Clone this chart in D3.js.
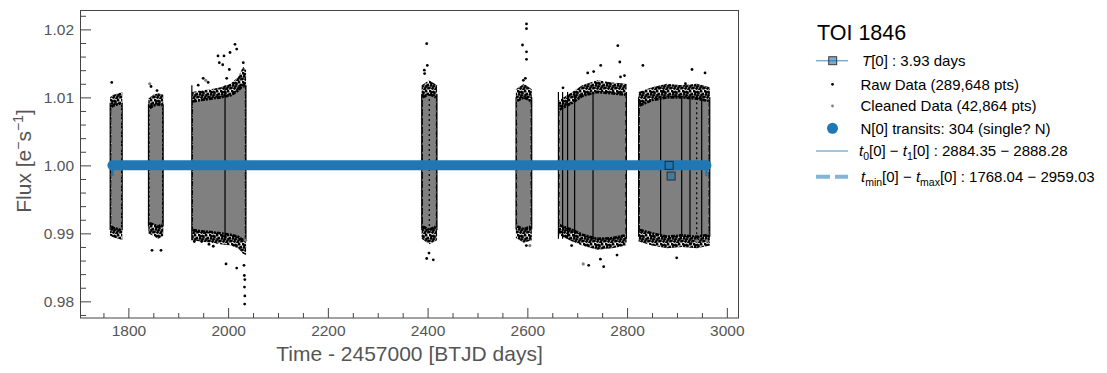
<!DOCTYPE html>
<html><head><meta charset="utf-8">
<script src="https://cdn.jsdelivr.net/npm/d3@7"></script>
<style>
body{margin:0;background:#fff}
svg{display:block;font-family:"Liberation Sans",Arial,sans-serif}
</style>
</head><body>
<svg id="c" width="1107" height="373"></svg>
<script>
// ---------------- data ----------------
// envelope knots of each observed segment (read from picture)
const knotSeg    = [0,0,0,0, 1,1,1,1, 2,2,2,2,2,2,2,2, 3,3,3, 4,4,4, 5,5,5,5,5,5, 6,6,6,6,6,6];
const knotT      = [1763.2,1770,1780,1787.8, 1840,1850,1860,1870,
                    1927,1945,1965,1985,2005,2020,2030,2036,
                    2388,2403,2419, 2577,2593,2609,
                    2662,2690,2710,2740,2770,2799,
                    2823,2850,2880,2910,2940,2966];
const knotRawHi  = [1.0100,1.0104,1.0106,1.0108, 1.0098,1.0104,1.0106,1.0104,
                    1.0108,1.0110,1.0112,1.0115,1.0120,1.0130,1.0145,1.0140,
                    1.0118,1.0125,1.0118, 1.0112,1.0120,1.0112,
                    1.0095,1.0108,1.0118,1.0125,1.0122,1.0120,
                    1.0108,1.0115,1.0120,1.0118,1.0120,1.0115];
const knotCleanHi= [1.0086,1.0088,1.0090,1.0092, 1.0084,1.0088,1.0090,1.0088,
                    1.0094,1.0096,1.0098,1.0100,1.0103,1.0110,1.0118,1.0115,
                    1.0100,1.0105,1.0100, 1.0095,1.0100,1.0095,
                    1.0082,1.0092,1.0102,1.0108,1.0106,1.0104,
                    1.0088,1.0096,1.0100,1.0100,1.0098,1.0095];
const knotCleanLo= [0.9910,0.9908,0.9906,0.9905, 0.9915,0.9913,0.9910,0.9913,
                    0.9905,0.9903,0.9902,0.9900,0.9898,0.9895,0.9890,0.9890,
                    0.9910,0.9905,0.9910, 0.9910,0.9906,0.9910,
                    0.9912,0.9905,0.9898,0.9892,0.9893,0.9897,
                    0.9905,0.9900,0.9895,0.9897,0.9895,0.9898];
const knotRawLo  = [0.9897,0.9894,0.9892,0.9890, 0.9900,0.9896,0.9892,0.9896,
                    0.9890,0.9888,0.9886,0.9884,0.9882,0.9878,0.9870,0.9868,
                    0.9892,0.9884,0.9890, 0.9893,0.9886,0.9890,
                    0.9898,0.9888,0.9882,0.9876,0.9878,0.9882,
                    0.9888,0.9882,0.9878,0.9880,0.9878,0.9882];

// isolated raw-data points
const rawOutT = [1766.6, 1845.4,1857.4,1847.4,1865.4,
  1979.7,1991.7,2003.8,2013.8,2017.2,2030.4,1982.3,1989.1,1997.2,2002.4,1950,1960,1940,
  1932.2,1947,1961.7,1970.3,1995.8,2017.2,2031.8,2032.5,2033.5,2032.8,2033.5,2033.2,
  2398.2,2399.4,2393.4,2394,2398.2,2411.4,2402.8,
  2598.3,2598.3,2590.3,2598.3,2598.3,2596,2592,2598,
  2747.1,2781.4,2785.4,2721,2733,2671.5,2794.8,2786.8,
  2723,2753.1,2746.5,2688.8,2779.8,2664.7,
  2831.7,2930.2,2956.3,2917,2872.6,2864,
  2899.5,2928];
const rawOutF = [1.0122, 1.0116,1.0110,0.9875,0.9875,
  1.0161,1.0161,1.0166,1.0178,1.0171,1.0151,1.0151,1.0148,1.0128,1.0141,1.0128,1.0122,1.0118,
  0.9888,0.9888,0.9884,0.9881,0.9855,0.9849,0.9853,0.9838,0.9832,0.9821,0.9808,0.9796,
  1.0179,1.0147,1.0140,1.0135,0.9863,0.9861,0.9871,
  1.0208,1.0201,1.0177,1.0167,1.0156,1.0128,1.0125,0.9882,
  1.0147,1.0176,1.0152,1.0136,1.0138,1.0114,1.0132,1.0130,
  0.9853,0.9851,0.9862,0.9882,0.9868,0.9902,
  1.0147,1.0141,1.0136,1.0120,1.0109,1.0114,
  0.9864,0.9885];
// isolated cleaned-data points
const cleanOutT = [1842.8, 1955, 2035, 2605, 2960, 2940, 2712];
const cleanOutF = [1.0120, 1.0125, 0.9890, 0.9882, 0.9889, 0.9889, 0.9855];
// dark vertical stripes at data-gap edges
const edgeT = [1763.5,1787.5,1840.3,1869.7,1927.3,1993.8,2035.7,2388.3,2403.4,2418.7,2577.4,2608.8,
  2662.3,2670.7,2680.7,2694.8,2731.7,2798.6,2823.1,2867.2,2909.5,2926.1,2939.6,2949.6,2965.8];

// transits
const tMin = 1768.04, tMax = 2959.03;
const squareT = [2884.35, 2888.28];
const squareF = [1.0000, 0.99843];

// axes ticks
const xMajor = [1800,2000,2200,2400,2600,2800,3000];
const yMajor = [0.98,0.99,1.00,1.01,1.02];

// legend
const legendTitle = "TOI 1846";
const rawLabel = "Raw Data (289,648 pts)";
const cleanLabel = "Cleaned Data (42,864 pts)";
const transitLabel = "N[0] transits: 304 (single? N)";

// ---------------- drawing ----------------
const blue = "#1f77b4";
const svg = d3.select("#c");
const defs = svg.append("defs");
// irregular stipple texture for the dense raw-data fringe
const pat = defs.append("pattern").attr("id","speck").attr("width",11).attr("height",9)
  .attr("patternUnits","userSpaceOnUse");
[[1,1,"#000"],[4.5,2,"#000"],[8,1.2,"#000"],[10,4,"#000"],[2,4.5,"#000"],[6,5,"#808080"],
 [3.5,7.5,"#000"],[7.5,7,"#000"],[0.5,7,"#000"],[5.5,3,"#000"],[9,8.5,"#808080"],[6.5,8.5,"#000"],
 [8.5,5,"#000"],[2.5,2.5,"#000"],[4.5,5.5,"#000"],[10.5,7,"#000"]]
  .forEach(([cx,cy,c])=> pat.append("circle").attr("cx",cx).attr("cy",cy).attr("r",1.45).attr("fill",c));

const x = d3.scaleLinear().domain([1705, 3023]).range([81, 738.3]);
const y = d3.scaleLinear().domain([0.97755, 1.02285]).range([318, 10]);

const knots = knotT.map((t,i)=>({seg:knotSeg[i], t, rh:knotRawHi[i], ch:knotCleanHi[i], cl:knotCleanLo[i], rl:knotRawLo[i]}));
const segs = d3.groups(knots, d=>d.seg);

const plot = svg.append("g");
const rawArea = d3.area().x(d=>x(d.t)).y0(d=>y(d.rl)).y1(d=>y(d.rh));
const inset = (d,i,a)=> x(d.t) + (i===0 ? 1.3 : (i===a.length-1 ? -1.3 : 0));
const cleanArea = d3.area().x(inset).y0(d=>y(d.cl)).y1(d=>y(d.ch));
const hiLine = d3.line().x(inset).y(d=>y(d.ch));
const loLine = d3.line().x(inset).y(d=>y(d.cl));

segs.forEach(([k, arr])=>{
  plot.append("path").attr("d", rawArea(arr)).attr("fill","url(#speck)");
});
segs.forEach(([k, arr])=>{
  plot.append("path").attr("d", cleanArea(arr)).attr("fill","#808080");
  plot.append("path").attr("d", hiLine(arr)).attr("fill","none").attr("stroke","#000").attr("stroke-width",2.6).attr("stroke-dasharray","4,1,2,1");
  plot.append("path").attr("d", loLine(arr)).attr("fill","none").attr("stroke","#000").attr("stroke-width",2.6).attr("stroke-dasharray","4,1,2,1");
});
// edge stripes
edgeT.forEach(t=>{
  const s = segs.find(([k,arr])=> t>=arr[0].t-0.5 && t<=arr[arr.length-1].t+0.5);
  if(!s) return;
  const arr = s[1];
  const hi = d3.max(arr, d=>d.ch), lo = d3.min(arr, d=>d.cl);
  plot.append("line").attr("x1",x(t)).attr("x2",x(t)).attr("y1",y(hi)).attr("y2",y(lo))
    .attr("stroke","#000").attr("stroke-width",1.2)
    .attr("stroke-dasharray", (t===2403.4||t===2939.6)?"2,3":null);
});
// isolated points
rawOutT.forEach((t,i)=>{
  plot.append("circle").attr("cx",x(t)).attr("cy",y(rawOutF[i])).attr("r",1.4).attr("fill","#000");
});
cleanOutT.forEach((t,i)=>{
  plot.append("circle").attr("cx",x(t)).attr("cy",y(cleanOutF[i])).attr("r",1.6).attr("fill","#808080");
});
// transits (dense markers form a band)
plot.append("line").attr("x1",x(tMin)).attr("x2",x(tMax)).attr("y1",y(1)).attr("y2",y(1))
  .attr("stroke",blue).attr("stroke-width",10).attr("stroke-linecap","round");
[tMin,tMax].forEach(t=>{
  plot.append("line").attr("x1",x(t)).attr("x2",x(t)).attr("y1",y(1)).attr("y2",y(squareF[1]))
    .attr("stroke",blue).attr("stroke-width",2.5);
});
plot.append("line").attr("x1",x(squareT[0])).attr("x2",x(squareT[1]))
  .attr("y1",y(squareF[0])).attr("y2",y(squareF[1])).attr("stroke",blue).attr("stroke-opacity",0.5);
squareT.forEach((t,i)=>{
  plot.append("rect").attr("x",x(t)-4).attr("y",y(squareF[i])-4).attr("width",8).attr("height",8)
    .attr("fill",blue).attr("fill-opacity",0.6).attr("stroke","#1a1a1a").attr("stroke-opacity",0.8).attr("stroke-width",1);
});

// axes
const axColor = "#444", tickText = "#555";
const xMinor = d3.range(1750, 3001, 50).filter(v=>!xMajor.includes(v));
const yMinor = d3.range(0, 23).map(i=> +(0.978 + i*0.002).toFixed(3)).filter(v=>!yMajor.some(m=>Math.abs(m-v)<1e-9) && v<1.0225);

function styleAxis(g){
  g.select(".domain").remove();
  g.selectAll(".tick line").attr("stroke",axColor);
  g.selectAll(".tick text").attr("fill",tickText).attr("font-size",15.5).attr("font-family","Liberation Sans, Arial, sans-serif");
}
svg.append("g").attr("transform","translate(0,318)")
  .call(d3.axisBottom(x).tickValues(xMajor).tickFormat(d3.format("d")).tickSizeInner(-10).tickSizeOuter(0).tickPadding(7))
  .call(styleAxis);
svg.append("g").attr("transform","translate(0,318)")
  .call(d3.axisBottom(x).tickValues(xMinor).tickFormat("").tickSizeInner(-5).tickSizeOuter(0))
  .call(styleAxis);
svg.append("g").attr("transform","translate(81,0)")
  .call(d3.axisLeft(y).tickValues(yMajor).tickFormat(d3.format(".2f")).tickSizeInner(-10).tickSizeOuter(0).tickPadding(7))
  .call(styleAxis);
svg.append("g").attr("transform","translate(81,0)")
  .call(d3.axisLeft(y).tickValues(yMinor).tickFormat("").tickSizeInner(-5).tickSizeOuter(0))
  .call(styleAxis);

// frame
svg.append("rect").attr("x",80.5).attr("y",10.5).attr("width",658).attr("height",307.5)
  .attr("fill","none").attr("stroke",axColor).attr("stroke-width",1);

// axis labels
svg.append("text").attr("x",409.5).attr("y",361).attr("text-anchor","middle")
  .attr("font-size",21).attr("fill",tickText).text("Time - 2457000 [BTJD days]");
const yl = svg.append("text").attr("transform","translate(31,161) rotate(-90)").attr("text-anchor","middle")
  .attr("font-size",21).attr("fill",tickText);
yl.append("tspan").text("Flux [e");
yl.append("tspan").attr("dy",-8).attr("font-size",14).text("−");
yl.append("tspan").attr("dy",8).text("s");
yl.append("tspan").attr("dy",-8).attr("font-size",14).text("−1");
yl.append("tspan").attr("dy",8).text("]");

// legend
const lg = svg.append("g");
lg.append("text").attr("x",817).attr("y",40).attr("font-size",21.5).attr("fill","#000").text(legendTitle);
const rows = [60.7, 84.3, 106, 128.3, 151, 176.7];
function richText(xp, yc, parts){
  const t = lg.append("text").attr("x",xp).attr("y",yc+5.4).attr("font-size",15).attr("fill","#000");
  let shift = 0;
  parts.forEach(p=>{
    const s = t.append("tspan").text(p.t);
    const target = p.sub ? 4 : 0;
    if(target!==shift){ s.attr("dy", target-shift); shift = target; }
    if(p.it) s.attr("font-style","italic");
    if(p.sub) s.attr("font-size",10.5);
  });
  return t;
}
// row 1
lg.append("line").attr("x1",816).attr("x2",848).attr("y1",rows[0]).attr("y2",rows[0])
  .attr("stroke",blue).attr("stroke-opacity",0.6).attr("stroke-width",1.5);
lg.append("rect").attr("x",832.7-4).attr("y",rows[0]-4).attr("width",8).attr("height",8)
  .attr("fill",blue).attr("fill-opacity",0.6).attr("stroke","#1a1a1a").attr("stroke-opacity",0.8);
richText(862, rows[0], [{t:"T",it:true},{t:"[0] : 3.93 days"}]);
// row 2
lg.append("circle").attr("cx",832.5).attr("cy",rows[1]).attr("r",1.4).attr("fill","#000");
richText(860.5, rows[1], [{t:rawLabel}]);
// row 3
lg.append("circle").attr("cx",832.5).attr("cy",rows[2]).attr("r",1.4).attr("fill","#808080");
richText(860.5, rows[2], [{t:cleanLabel}]);
// row 4
lg.append("circle").attr("cx",832.5).attr("cy",rows[3]).attr("r",5.5).attr("fill",blue);
richText(860.5, rows[3], [{t:transitLabel}]);
// row 5
lg.append("line").attr("x1",816).attr("x2",848).attr("y1",rows[4]).attr("y2",rows[4])
  .attr("stroke",blue).attr("stroke-opacity",0.55).attr("stroke-width",1.5);
richText(859, rows[4], [{t:"t",it:true},{t:"0",sub:true},{t:"[0] − "},{t:"t",it:true},{t:"1",sub:true},
  {t:"[0] : "+squareT[0].toFixed(2)+" − "+squareT[1].toFixed(2)}]);
// row 6
lg.append("line").attr("x1",816).attr("x2",848).attr("y1",rows[5]).attr("y2",rows[5])
  .attr("stroke",blue).attr("stroke-opacity",0.55).attr("stroke-width",4).attr("stroke-dasharray","14,5");
richText(861, rows[5], [{t:"t",it:true},{t:"min",sub:true},{t:"[0] − "},{t:"t",it:true},{t:"max",sub:true},
  {t:"[0] : "+tMin.toFixed(2)+" − "+tMax.toFixed(2)}]);
</script>
</body></html>
